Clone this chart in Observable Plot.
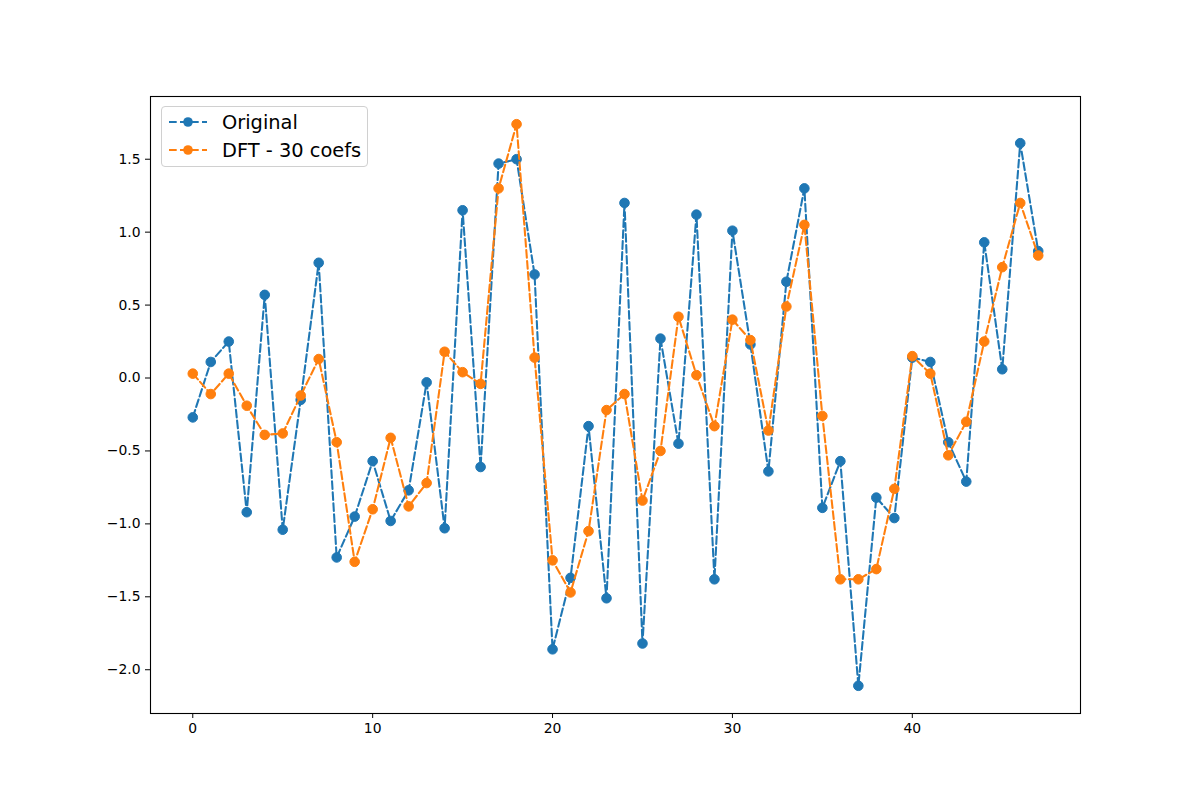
<!DOCTYPE html>
<html>
<head>
<meta charset="utf-8">
<script src="https://cdn.jsdelivr.net/npm/d3@7"></script>
<script src="https://cdn.jsdelivr.net/npm/@observablehq/plot@0.6"></script>
<style>
  html, body { margin: 0; padding: 0; background: #fff; }
  #wrap { position: relative; width: 1200px; height: 800px; font-family: "DejaVu Sans", sans-serif; }
  #legend {
    position: absolute; left: 161px; top: 106px; width: 207px; height: 61px;
    box-sizing: border-box; border: 1px solid #d0d0d0; border-radius: 4px;
    background: rgba(255,255,255,0.8);
  }
  #legend .row { position: absolute; left: 0; height: 28px; display: flex; align-items: center; }
  #legend .row span { position: absolute; left: 60px; font-size: 19.4px; white-space: nowrap; color: #000; }
</style>
</head>
<body>
<div id="wrap"></div>
<script>
// Signal and its reconstruction from the first 30 DFT coefficients
const original = [
  -0.27, 0.11, 0.25, -0.92, 0.57, -1.04, -0.15, 0.79, -1.23, -0.95,
  -0.57, -0.98, -0.77, -0.03, -1.03, 1.15, -0.61, 1.47, 1.50, 0.71,
  -1.86, -1.37, -0.33, -1.51, 1.20, -1.82, 0.27, -0.45, 1.12, -1.38,
  1.01, 0.23, -0.64, 0.66, 1.30, -0.89, -0.57, -2.11, -0.82, -0.96,
  0.14, 0.11, -0.44, -0.71, 0.93, 0.06, 1.61, 0.87
];
const dft30 = [
  0.03, -0.11, 0.03, -0.19, -0.39, -0.38, -0.12, 0.13, -0.44, -1.26,
  -0.90, -0.41, -0.88, -0.72, 0.18, 0.04, -0.04, 1.30, 1.74, 0.14,
  -1.25, -1.47, -1.05, -0.22, -0.11, -0.84, -0.50, 0.42, 0.02, -0.33,
  0.40, 0.26, -0.36, 0.49, 1.05, -0.26, -1.38, -1.38, -1.31, -0.76,
  0.15, 0.03, -0.53, -0.30, 0.25, 0.76, 1.20, 0.84
];
const seriesNames = ["Original", "DFT - 30 coefs"];
const seriesColors = ["#1f77b4", "#ff7f0e"];
const xTicks = [0, 10, 20, 30, 40];
const yTicks = [-2.0, -1.5, -1.0, -0.5, 0.0, 0.5, 1.0, 1.5];

const toRows = (values) => values.map((v, i) => ({i, v}));
const rowsOrig = toRows(original);
const rowsDft = toRows(dft30);

const dash = "7.7,3.3";
const lw = 2.08;
const r = 4.8;

const chart = Plot.plot({
  width: 1200,
  height: 800,
  marginLeft: 150,
  marginRight: 120,
  marginTop: 96,
  marginBottom: 87,
  style: {fontFamily: "DejaVu Sans, sans-serif", fontSize: "13.9px", color: "#000", background: "#fff"},
  x: {domain: [-2.35, 49.35]},
  y: {domain: [-2.3, 1.93]},
  marks: [
    Plot.axisX({ticks: xTicks, tickSize: 5, tickPadding: 5, label: null, tickFormat: d3.format("d")}),
    Plot.axisY({ticks: yTicks, tickSize: 5, tickPadding: 5, label: null, tickFormat: d3.format(".1f")}),
    Plot.lineY(rowsOrig, {x: "i", y: "v", stroke: seriesColors[0], strokeWidth: lw, strokeDasharray: dash}),
    Plot.dot(rowsOrig, {x: "i", y: "v", r, fill: seriesColors[0], stroke: seriesColors[0], strokeWidth: 1}),
    Plot.lineY(rowsDft, {x: "i", y: "v", stroke: seriesColors[1], strokeWidth: lw, strokeDasharray: dash}),
    Plot.dot(rowsDft, {x: "i", y: "v", r, fill: seriesColors[1], stroke: seriesColors[1], strokeWidth: 1}),
    Plot.frame({stroke: "#000", strokeWidth: 1.1})
  ]
});

const wrap = document.getElementById("wrap");
wrap.appendChild(chart);

// Legend inside the axes, upper left
const legend = document.createElement("div");
legend.id = "legend";
seriesNames.forEach((name, k) => {
  const row = document.createElement("div");
  row.className = "row";
  row.style.top = (k === 0 ? 1 : 29) + "px";
  row.innerHTML =
    `<svg width="56" height="28" style="position:absolute;left:0;top:0">
       <line x1="7" x2="45" y1="14" y2="14" stroke="${seriesColors[k]}" stroke-width="${lw}" stroke-dasharray="${dash}"/>
       <circle cx="26" cy="14" r="${r}" fill="${seriesColors[k]}"/>
     </svg><span>${name}</span>`;
  legend.appendChild(row);
});
wrap.appendChild(legend);
</script>
</body>
</html>
